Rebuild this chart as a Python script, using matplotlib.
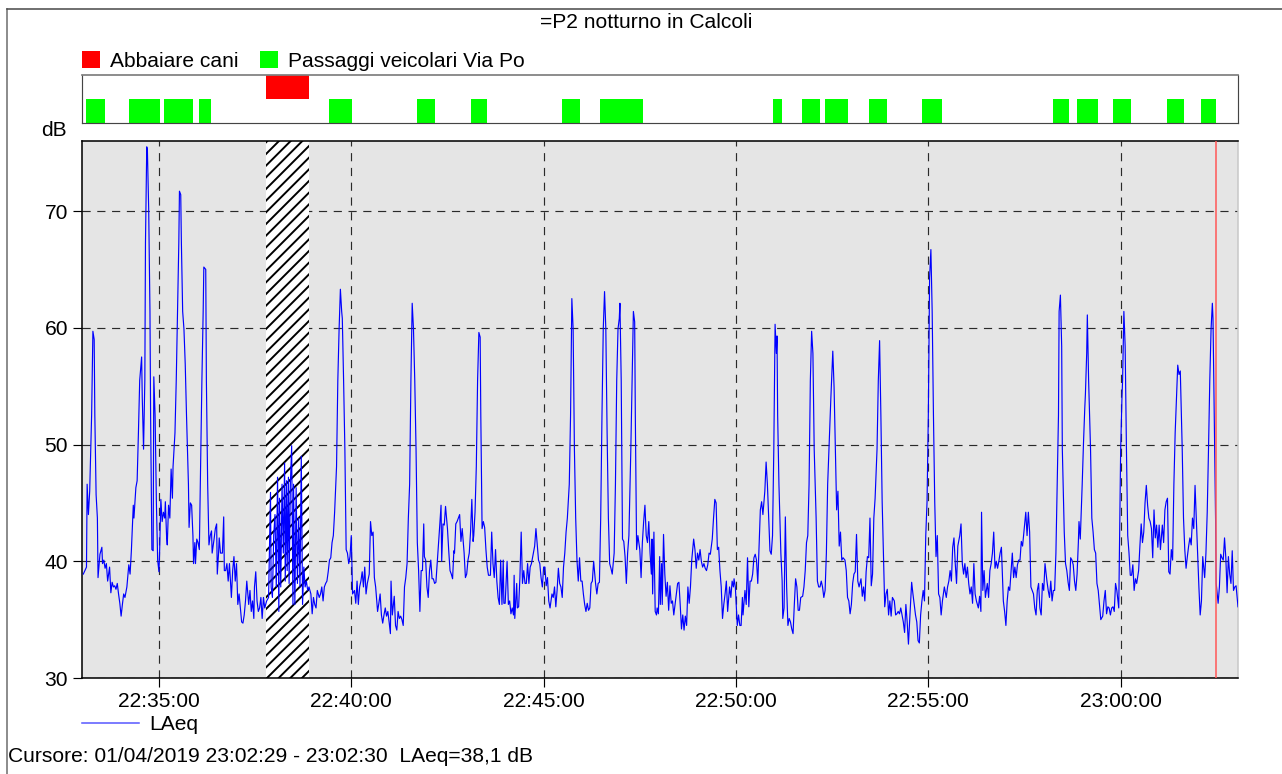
import numpy as np
import matplotlib
matplotlib.use("Agg")
import matplotlib.pyplot as plt
import matplotlib.dates as mdates
from matplotlib.patches import Patch
from matplotlib.lines import Line2D

day = "2019-04-01"
t0 = "22:33:00"
t_end = "23:03:03"

# LAeq: secondi dalle 22:33:00 e livello in dB
sec = [
    2, 7, 8, 10, 12, 15, 17, 19, 20, 22, 24, 25,
    28, 31, 32, 34, 36, 38, 40, 43, 45, 47, 49, 51,
    53, 55, 57, 59, 61, 63, 65, 67, 70, 73, 75, 77,
    80, 81, 84, 86, 88, 90, 93, 94, 96, 98, 99, 101,
    102, 104, 106, 107, 109, 111, 112, 114, 116, 118, 120, 121,
    123, 125, 127, 129, 130, 132, 133, 135, 137, 139, 141, 142,
    145, 147, 149, 151, 152, 154, 155, 157, 159, 161, 163, 166,
    167, 169, 171, 173, 174, 176, 177, 179, 181, 183, 185, 187,
    189, 190, 193, 194, 196, 198, 200, 202, 203, 206, 208, 210,
    211, 213, 214, 216, 219, 221, 222, 224, 226, 228, 230, 233,
    235, 237, 239, 241, 243, 245, 247, 249, 251, 253, 255, 257,
    260, 262, 264, 266, 268, 269, 271, 273, 275, 277, 279, 281,
    283, 285, 288,
    291, 294, 295, 297, 299, 301, 303, 305, 307, 308, 310, 312,
    314, 316, 317, 319, 320, 322, 323, 325, 327, 329, 330, 332,
    334, 336, 338, 340, 342, 344, 346, 348, 350, 352, 354,
    357, 359, 361, 363, 365, 367, 370, 372, 374, 376, 378, 380,
    382, 384, 386, 388, 390, 392, 394, 397, 399, 401, 403, 405,
    406, 408, 410, 412, 414, 416, 418, 420, 422, 425, 427, 429,
    431, 433, 435, 437, 439, 441, 443, 445, 448,
    450, 452, 454, 456, 458, 461, 463, 465, 467, 469, 471, 473,
    475, 477, 479, 481, 482, 484, 487, 489, 491, 493, 495, 497,
    499, 501, 503, 505, 507, 509, 511, 513, 515, 517, 519, 521,
    523, 525, 527, 529, 531, 533, 534, 536, 538, 540, 542, 544,
    546, 548, 550, 552, 554, 556, 558, 560, 561, 563, 565, 567,
    570, 572, 574, 576, 578, 580, 581, 583, 585, 587, 589, 591,
    593, 596, 598, 600, 602, 604, 606, 608, 610, 611, 613, 615,
    617, 619, 621, 622, 624, 626, 628, 630, 632, 634, 637, 639,
    641, 643, 645, 647, 649, 651, 653, 655, 657, 658, 660, 663,
    665, 667, 669, 671, 673, 674, 675, 678, 679, 681, 683, 685,
    687, 689, 691, 693, 695, 697, 699, 701, 703, 706, 708, 710,
    712, 714, 716, 718, 720, 722, 724, 726, 728, 730, 733, 735,
    737, 739, 741, 743, 745, 747, 749, 751, 753, 755, 757, 760,
    762, 764, 766, 768, 770, 772, 774, 776, 778, 780, 782, 784,
    786, 788, 790, 792, 794, 796, 798, 801, 803, 805, 807, 809,
    811, 813, 815, 817, 819, 821, 823, 825, 827, 830, 832, 834,
    836, 838, 839, 841, 843, 845, 847, 849, 851, 853, 856, 858,
    860, 862, 863, 865, 867, 870, 872, 874, 876, 878, 880, 882,
    884, 886, 888, 889, 890, 892, 894, 896,
    897, 899, 901, 902, 904, 905, 907, 909, 911, 913, 915, 917,
    919, 921, 923, 925, 927, 929, 931, 933, 935, 937, 939, 941,
    943, 945, 947, 949, 951, 954, 956, 958, 960, 962, 964, 966,
    968, 970, 972, 974, 976, 978, 980, 983, 985, 987, 989, 991,
    993, 995, 997, 999, 1001, 1003, 1005, 1007, 1010, 1012, 1014, 1016,
    1017, 1019, 1022, 1024, 1026, 1028, 1030, 1031, 1034, 1036, 1038, 1040,
    1042, 1044, 1046, 1048, 1050, 1052, 1054, 1056, 1058, 1060, 1062, 1065,
    1067, 1069, 1071, 1073, 1075, 1077, 1079, 1081, 1083, 1084, 1085, 1087,
    1090, 1092, 1093, 1095, 1097, 1099, 1101, 1103, 1105, 1107, 1109, 1111,
    1113, 1115, 1117, 1119, 1121, 1124, 1126, 1128, 1130, 1132, 1134, 1136,
    1138, 1140, 1142, 1145, 1147, 1149, 1151, 1153, 1155, 1157, 1159, 1161,
    1163, 1166, 1168, 1171, 1173, 1175, 1177, 1179, 1181, 1183, 1185, 1187,
    1190, 1192, 1194, 1196, 1198, 1200, 1202, 1204, 1206, 1208, 1210, 1212,
    1215, 1217, 1219, 1221, 1223, 1225, 1227, 1229, 1231, 1233, 1235, 1237,
    1240, 1242, 1244, 1246, 1248, 1250, 1252, 1254, 1256, 1258, 1260, 1262,
    1264, 1267, 1269, 1271, 1273, 1275, 1277, 1279, 1281, 1283, 1285, 1287,
    1289, 1291, 1294, 1296, 1298, 1300, 1302, 1304, 1306, 1308, 1310, 1312,
    1314, 1316, 1318, 1320, 1322, 1324, 1326, 1328, 1330, 1332, 1334, 1336,
    1338, 1340, 1342, 1345,
    1348, 1350, 1352, 1354, 1356, 1358, 1360, 1362, 1364, 1366, 1369, 1371,
    1373, 1375, 1377, 1379, 1381, 1383, 1385, 1387, 1389, 1391, 1393, 1395,
    1398, 1400, 1402, 1403, 1405, 1407, 1409, 1412, 1414, 1416, 1418, 1420,
    1422, 1424, 1426, 1428, 1430, 1432, 1434, 1437, 1439, 1441, 1443, 1445,
    1447, 1449, 1451, 1453, 1455, 1457, 1459, 1461, 1463, 1465, 1467, 1469,
    1472, 1474, 1476, 1478, 1480, 1482, 1484, 1486, 1488, 1490, 1492, 1494,
    1496, 1498, 1500, 1502, 1505, 1507, 1509, 1511, 1513, 1515, 1517, 1519,
    1521, 1523, 1524, 1526, 1528, 1529, 1532, 1534, 1536, 1538, 1540, 1542,
    1544, 1546, 1548, 1550, 1552, 1554, 1555, 1557, 1560, 1562, 1564, 1565,
    1567, 1568, 1570, 1573, 1575, 1577, 1579, 1581, 1583, 1585, 1587, 1589,
    1592, 1594, 1596, 1598, 1600, 1602, 1604, 1606, 1608, 1610, 1612, 1614,
    1617, 1618, 1620, 1622, 1623, 1625, 1627, 1629, 1631, 1633, 1635, 1637,
    1639, 1641, 1643, 1645, 1648, 1650, 1652, 1654, 1656, 1658, 1660, 1662,
    1664, 1666, 1668, 1670, 1672, 1674, 1676, 1678, 1680, 1682, 1685, 1687,
    1689, 1691, 1693, 1695, 1697, 1699, 1701, 1703, 1705, 1707, 1709, 1711,
    1713, 1716, 1718, 1720, 1722, 1724, 1726, 1728, 1730, 1732, 1734, 1736,
    1738, 1740, 1742, 1744, 1746, 1748, 1751, 1753, 1755, 1757, 1759, 1761,
    1763, 1764, 1766, 1768, 1769, 1772, 1774, 1776, 1778, 1780, 1782, 1784,
    1786, 1788, 1790, 1792, 1794, 1796, 1798, 1800, 1803,
]
laeq = [
    38.9, 39.5, 46.6, 44.0, 46.0, 52.5, 59.7, 59.0, 52.5, 45.7, 43.7, 38.6,
    40.6, 41.2, 39.8, 40.1, 39.4, 39.8, 38.3, 39.5, 37.3, 38.2, 37.8, 37.9,
    37.6, 38.1, 37.2, 36.4, 35.3, 36.3, 37.2, 36.9, 37.8, 39.7, 38.9, 40.9,
    44.8, 43.7, 46.3, 46.9, 51.0, 55.5, 57.5, 54.0, 49.6, 55.5, 67.3, 75.5,
    75.2, 70.2, 61.4, 52.5, 41.0, 40.9, 55.8, 52.5, 45.1, 40.1, 39.1, 40.7,
    45.3, 43.4, 44.2, 43.7, 45.1, 42.0, 41.4, 44.8, 43.7, 47.9, 45.4, 48.1,
    51.0, 55.5, 61.4, 67.3, 71.7, 71.4, 67.3, 61.4, 59.9, 56.9, 52.5, 46.6,
    42.9, 45.0, 44.8, 42.2, 39.8, 41.6, 39.8, 41.9, 41.6, 41.0, 48.1, 55.5,
    61.4, 65.2, 65.0, 55.5, 46.6, 41.4, 42.2, 42.6, 40.7, 41.9, 42.8, 43.2,
    38.9, 40.7, 42.0, 40.7, 40.7, 43.8, 39.2, 39.2, 39.8, 38.3, 39.8, 36.9,
    39.2, 40.4, 38.3, 39.8, 36.3, 37.2, 36.0, 34.8, 34.7, 35.4, 36.6, 38.3,
    36.3, 37.5, 35.7, 36.6, 35.1, 37.8, 39.1, 36.6, 35.7, 36.0, 36.9, 35.1,
    36.9, 36.0, 36.6,
    36.9, 45.9, 37.8, 36.9, 42.2, 44.0, 37.8, 47.2, 35.7, 45.4, 37.8, 46.6,
    40.7, 48.4, 38.3, 46.9, 39.2, 47.2, 38.1, 46.6, 49.9, 36.3, 46.6, 36.3,
    46.3, 38.1, 43.7, 37.8, 49.0, 36.3, 39.5, 37.8, 38.3, 37.5, 37.8,
    37.2, 35.5, 36.9, 36.3, 36.0, 37.5, 36.9, 37.2, 37.8, 36.6, 37.8, 38.1,
    38.3, 39.1, 40.1, 40.3, 41.6, 42.2, 44.2, 48.1, 55.5, 59.9, 63.3, 61.4,
    60.8, 55.5, 49.6, 41.0, 40.7, 39.8, 40.4, 42.2, 37.2, 37.5, 36.4, 38.3,
    36.3, 37.8, 38.3, 39.1, 37.8, 39.5, 37.2, 38.1, 38.9,
    43.4, 42.2, 42.5, 38.6, 37.8, 35.7, 36.4, 37.2, 35.4, 34.7, 35.4, 36.0,
    35.3, 35.7, 34.8, 33.8, 38.3, 35.4, 37.0, 34.5, 34.1, 35.7, 35.1, 35.3,
    35.0, 34.5, 37.8, 38.6, 39.8, 43.7, 46.6, 55.5, 62.1, 59.9, 55.5, 49.6,
    41.6, 39.2, 35.7, 39.2, 39.2, 43.2, 40.4, 40.1, 37.8, 36.9, 39.2, 40.1,
    38.5, 38.5, 38.1, 38.2, 39.8, 41.3, 43.1, 44.8, 40.0, 43.2, 43.1, 44.7,
    42.8, 40.9, 39.2, 38.9, 38.5, 40.9, 40.7, 43.2, 43.4, 43.7, 44.0, 41.7,
    42.8, 40.7, 38.6, 38.9, 40.1, 40.7, 42.5, 45.3, 41.7, 42.2, 44.2, 48.1,
    55.5, 59.6, 59.2, 52.5, 42.8, 43.4, 42.9, 41.0, 39.5, 38.8, 38.8, 42.5,
    39.8, 38.6, 41.0, 38.3, 36.9, 36.3, 40.1, 36.3, 40.1, 36.4, 36.4, 40.0,
    36.3, 36.6, 35.5, 36.0, 35.4, 38.8, 35.1, 38.1, 36.0, 36.1, 38.6, 42.5,
    38.1, 39.2, 38.1, 38.1, 39.8, 38.1, 39.5, 39.8, 40.4, 41.3, 42.8, 41.4,
    40.1, 39.8, 38.6, 37.8, 39.5, 39.5, 37.9, 38.6, 36.6, 36.0, 37.2, 36.9,
    37.8, 36.1, 37.5, 39.4, 38.1, 37.8, 36.9, 39.5, 40.7, 42.5, 43.7, 46.6,
    52.5, 62.5, 59.9, 49.6, 43.7, 40.1, 38.3, 40.3, 38.3, 38.3, 37.2, 36.3,
    35.7, 36.4, 35.8, 36.0, 38.1, 38.3, 40.0, 38.1, 37.2, 38.1, 38.2, 43.7,
    52.5, 59.9, 63.1, 59.9, 51.0, 43.7, 39.8, 39.4, 38.9, 40.7, 46.6, 55.5,
    59.9, 60.8, 62.1, 55.5, 41.9, 41.7, 40.4, 38.1, 40.7, 42.2, 49.6, 55.5,
    61.4, 60.5, 52.5, 41.0, 42.2, 41.0, 38.6, 41.6, 43.4, 44.8, 42.2, 41.6,
    43.4, 40.7, 38.9, 41.9, 37.2, 42.5, 35.7, 35.4,
    36.0, 35.5, 40.4, 36.3, 39.8, 36.3, 42.3, 38.9, 37.0, 38.2, 35.8, 37.9,
    36.4, 36.6, 35.4, 36.3, 37.2, 38.1, 38.2, 36.3, 34.2, 35.4, 34.1, 35.3,
    34.5, 37.8, 36.4, 37.8, 40.1, 41.9, 41.0, 39.4, 40.7, 40.1, 41.0, 40.0,
    39.5, 39.8, 39.4, 39.2, 39.7, 40.7, 40.6, 41.9, 43.7, 45.3, 45.0, 41.0,
    41.2, 39.2, 37.8, 35.1, 36.3, 37.2, 38.3, 35.7, 37.8, 36.9, 38.3, 37.8,
    38.5, 37.8, 34.5, 35.4, 34.5, 34.5, 36.9, 35.4, 37.5, 36.3, 40.3, 36.1,
    38.3, 38.3, 38.9, 40.3, 40.6, 40.1, 38.1, 41.3, 44.4, 45.1, 44.0, 46.0,
    48.5, 46.6, 43.7, 40.9, 40.6, 42.2, 49.6, 60.3, 57.8, 59.3, 52.5, 46.6,
    40.7, 38.3, 35.1, 36.0, 43.8, 37.8, 34.5, 35.1, 34.8, 34.2, 33.8, 36.3,
    38.5, 37.8, 35.8, 35.8, 36.9, 37.0, 37.8, 39.2, 41.6, 42.2, 46.6, 55.5,
    59.7, 57.8, 49.6, 43.7, 38.3, 37.8, 37.8, 38.3, 37.8, 36.9, 37.5, 40.7,
    46.6, 51.0, 54.0, 58.0, 54.9, 49.6, 44.4, 46.0, 41.3, 42.5, 40.1, 40.3,
    40.1, 39.2, 36.9, 36.6, 35.5, 36.3, 38.1, 38.9, 39.1, 42.3, 38.3, 37.8,
    38.5, 37.0, 37.8, 36.6, 39.1, 40.4, 40.3, 43.7, 37.9, 38.9, 43.7, 45.4,
    49.6, 55.5, 58.9, 52.5, 45.1, 40.7, 36.1, 37.2, 37.6, 35.4, 36.6, 35.3,
    36.9, 36.6, 35.4, 35.5, 35.7, 35.5, 36.0, 35.4, 34.8, 33.9, 36.3, 34.8,
    32.9, 35.0, 38.2, 37.2, 36.3, 35.4, 34.8, 33.2, 33.0, 35.4, 36.6, 37.5,
    36.6, 42.2, 45.1, 52.5, 64.3, 66.7, 61.4, 52.5, 45.1, 40.4, 42.2, 37.2,
    36.9, 35.4, 36.6, 37.8,
    36.9, 37.8, 38.3, 39.2, 38.3, 41.2, 42.0, 39.8, 38.1, 41.3, 42.2, 43.2,
    39.8, 38.9, 39.8, 38.6, 39.5, 38.1, 37.2, 37.8, 36.4, 39.8, 37.2, 36.6,
    36.0, 37.0, 35.7, 44.2, 37.5, 39.2, 36.9, 38.1, 36.9, 39.2, 39.8, 40.7,
    42.5, 39.4, 40.0, 39.4, 40.0, 40.7, 41.2, 36.6, 35.7, 34.5, 36.6, 37.8,
    37.5, 39.1, 40.7, 38.6, 39.5, 38.6, 39.7, 40.1, 40.1, 41.7, 41.3, 42.5,
    44.2, 42.2, 44.2, 42.5, 37.8, 37.5, 37.2, 36.0, 35.4, 37.5, 38.1, 36.0,
    35.4, 38.1, 37.5, 39.8, 38.3, 37.5, 36.9, 38.3, 36.6, 37.5, 37.5, 40.7,
    46.6, 52.5, 61.4, 62.8, 58.4, 49.6, 42.5, 39.8, 39.2, 38.2, 37.5, 40.3,
    40.1, 39.7, 38.3, 37.5, 38.9, 41.6, 43.4, 41.9, 46.6, 50.1, 53.1, 54.3,
    57.8, 61.1, 55.5, 49.6, 43.7, 42.5, 41.0, 40.7, 38.1, 37.5, 36.3, 35.0,
    35.3, 36.6, 37.5, 35.5, 36.1, 36.0, 35.4, 36.0, 36.1, 35.7, 38.1, 37.5,
    36.0, 40.7, 49.6, 54.0, 55.5, 61.4, 58.4, 49.6, 42.2, 40.7, 38.8, 38.8,
    39.7, 37.5, 38.5, 38.1, 39.2, 41.3, 43.2, 41.6, 42.5, 45.0, 46.5, 44.8,
    43.7, 43.4, 42.8, 40.3, 44.4, 42.0, 43.1, 41.2, 43.1, 41.0, 43.1, 41.6,
    44.4, 45.1, 45.4, 39.1, 38.9, 41.0, 40.1, 46.6, 51.0, 54.0, 56.8, 56.0,
    56.3, 49.6, 43.7, 41.0, 39.4, 40.4, 41.3, 42.0, 41.4, 43.7, 42.8, 46.5,
    43.7, 40.7, 37.8, 35.4, 36.6, 40.4, 38.6, 40.7, 44.2, 49.6, 55.5, 59.9,
    62.1, 60.8, 52.5, 43.7, 38.1, 36.4, 37.8, 40.6, 40.3, 40.1, 42.0, 40.3,
    37.3, 40.4, 38.9, 38.1, 40.9, 37.5, 37.8, 37.9, 36.1,
]

# eventi marcati (inizio, fine)
cani = [("22:37:47", "22:38:54")]
veicoli = [
    ("22:33:06", "22:33:36"), ("22:34:13", "22:35:02"), ("22:35:08", "22:35:53"),
    ("22:36:02", "22:36:21"), ("22:39:25", "22:40:01"), ("22:41:42", "22:42:10"),
    ("22:43:07", "22:43:32"), ("22:45:28", "22:45:57"), ("22:46:28", "22:47:35"),
    ("22:50:57", "22:51:12"), ("22:51:43", "22:52:11"), ("22:52:19", "22:52:54"),
    ("22:53:27", "22:53:55"), ("22:54:50", "22:55:21"), ("22:58:14", "22:58:39"),
    ("22:58:52", "22:59:24"), ("22:59:48", "23:00:16"), ("23:01:12", "23:01:38"),
    ("23:02:05", "23:02:28"),
]
escluso = [("22:37:47", "22:38:54")]
cursore = "23:02:29"
yticks = [30, 40, 50, 60, 70]


def num(hms):
    return mdates.date2num(np.datetime64(day + "T" + hms))


x = mdates.date2num(np.datetime64(day + "T" + t0) + np.array(sec, dtype="timedelta64[s]"))

DPI = 140
W, H = 1282, 774
plt.rcParams["font.family"] = ["Liberation Sans", "DejaVu Sans"]
plt.rcParams["font.size"] = 10.8
plt.rcParams["hatch.linewidth"] = 1.0
plt.rcParams["hatch.color"] = "black"
plt.rcParams["lines.scale_dashes"] = False

fig = plt.figure(figsize=(W / DPI, H / DPI), dpi=DPI)
ax = fig.add_axes([82 / W, 1 - 678 / H, 1156 / W, 537 / H], facecolor="#e5e5e5")
axe = fig.add_axes([82 / W, 1 - 123 / H, 1156 / W, 48 / H])

# grafico principale
ax.plot(x, laeq, color="#0000ff", lw=0.6, zorder=3)
for a, b in escluso:
    ax.axvspan(num(a), num(b), facecolor="white", edgecolor="black", hatch="////", lw=0, zorder=2)
ax.axvline(num(cursore), color="#ff5a5a", lw=0.8, zorder=4)
ax.set_xlim(num(t0), num(t_end))
ax.set_ylim(30, 76)
ax.set_yticks(yticks)
ax.xaxis.set_major_locator(mdates.MinuteLocator(byminute=range(0, 60, 5)))
ax.xaxis.set_major_formatter(mdates.DateFormatter("%H:%M:%S"))
ax.grid(True, ls=(0, (4.2, 3.4)), color="#2a2a2a", lw=0.6)
ax.set_axisbelow(True)
ax.tick_params(direction="out", length=4.6, width=0.6, pad=2.6, labelsize=10.8)
for s in ("top", "left", "bottom"):
    ax.spines[s].set(color="black", lw=0.8)
ax.spines["right"].set(color="#c8c8c8", lw=0.8)
ax.legend(handles=[Line2D([], [], color="#5a5aff", lw=0.8, label="LAeq")],
          loc="center left", bbox_to_anchor=(0, -47 / 537), frameon=False,
          borderpad=0, borderaxespad=0, handlelength=2.7, handletextpad=0.52)

# striscia eventi
axe.broken_barh([(num(a), num(b) - num(a)) for a, b in veicoli], (0, 1), facecolors="#00ff00")
axe.broken_barh([(num(a), num(b) - num(a)) for a, b in cani], (1, 1), facecolors="#ff0000")
axe.set_xlim(num(t0), num(t_end))
axe.set_ylim(0, 2)
axe.set_xticks([])
axe.set_yticks([])
for s in axe.spines.values():
    s.set(color="#444444", lw=0.6)
axe.spines["top"].set(color="#808080", lw=0.9)
handles = [Patch(facecolor="#ff0000", label="Abbaiare cani"),
           Patch(facecolor="#00ff00", label="Passaggi veicolari Via Po")]
axe.legend(handles=handles, ncol=2, loc="center left", bbox_to_anchor=(0, 1.29), frameon=False,
           borderpad=0, borderaxespad=0, handlelength=0.86, handleheight=0.86,
           handletextpad=0.48, columnspacing=1.0)

# testi
fig.text(646 / W, 1 - 23 / H, "=P2 notturno in Calcoli", ha="center", va="center")
fig.text(54 / W, 1 - 131 / H, "dB", ha="center", va="center")
fig.text(8 / W, 1 - 757 / H, "Cursore: 01/04/2019 23:02:29 - 23:02:30  LAeq=38,1 dB",
         ha="left", va="center")

# cornice esterna
fig.add_artist(Line2D([6.5 / W, 6.5 / W], [0, 1 - 9 / H], color="#6e6e6e", lw=0.8))
fig.add_artist(Line2D([6.5 / W, 1], [1 - 9 / H, 1 - 9 / H], color="#4a4a4a", lw=0.8))

fig.savefig("out.png", dpi=DPI)
